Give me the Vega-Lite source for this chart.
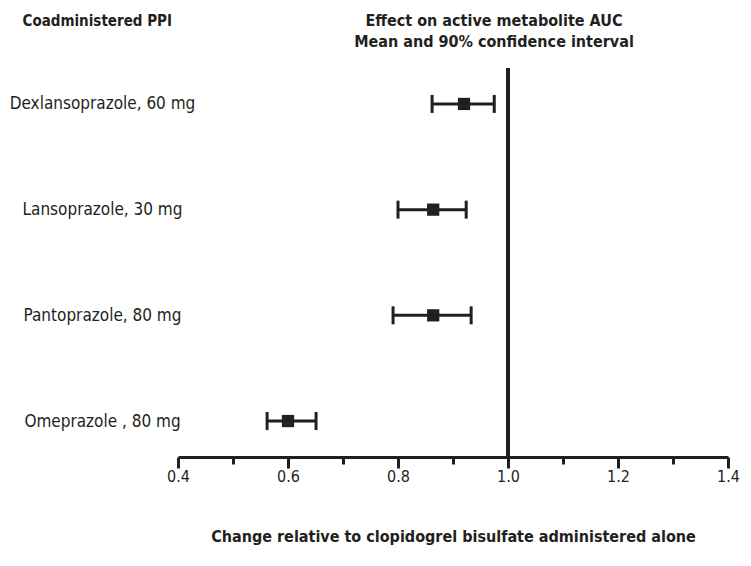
{
  "$schema": "https://vega.github.io/schema/vega-lite/v6.json",
  "width": 550,
  "height": 389,
  "autosize": {"type": "none"},
  "padding": {"left": 178, "top": 68, "right": 23, "bottom": 109},
  "background": "white",
  "config": {
    "view": {"stroke": null},
    "font": "DejaVu Sans Condensed"
  },
  "title": {
    "text": ["Effect on active metabolite AUC", "Mean and 90% confidence interval"],
    "anchor": "middle",
    "dx": 41,
    "dy": 47,
    "offset": 10,
    "font": "DejaVu Sans Condensed",
    "fontSize": 16,
    "fontWeight": "bold",
    "color": "#231f20",
    "lineHeight": 21
  },
  "data": {
    "values": [
      {"ppi": "Dexlansoprazole, 60 mg", "mean": 0.92, "lo": 0.862, "hi": 0.975},
      {"ppi": "Lansoprazole, 30 mg", "mean": 0.864, "lo": 0.8, "hi": 0.924},
      {"ppi": "Pantoprazole, 80 mg", "mean": 0.864, "lo": 0.791, "hi": 0.933},
      {"ppi": "Omeprazole , 80 mg", "mean": 0.6, "lo": 0.562, "hi": 0.651}
    ]
  },
  "encoding": {
    "y": {
      "field": "ppi",
      "type": "ordinal",
      "sort": null,
      "scale": {"type": "point", "padding": 0.34},
      "axis": {
        "title": "Coadministered PPI",
        "titleAngle": 0,
        "titleX": -156,
        "titleY": -48,
        "titleAlign": "left",
        "titleBaseline": "middle",
        "titleFont": "DejaVu Sans Condensed",
        "titleFontSize": 15,
        "titleFontWeight": "bold",
        "titleColor": "#231f20",
        "domain": false,
        "ticks": false,
        "labelAlign": "center",
        "labelPadding": 76,
        "labelLimit": 300,
        "labelFont": "DejaVu Sans Condensed",
        "labelFontSize": 17,
        "labelColor": "#231f20",
        "labelBaseline": "middle"
      }
    }
  },
  "layer": [
    {
      "mark": {"type": "rule", "color": "#231f20", "strokeWidth": 3},
      "encoding": {
        "x": {
          "field": "lo",
          "type": "quantitative",
          "scale": {"domain": [0.4, 1.4], "nice": false, "zero": false},
          "axis": {
            "title": "Change relative to clopidogrel bisulfate administered alone",
            "titleFont": "DejaVu Sans Condensed",
            "titleFontSize": 16,
            "titleFontWeight": "bold",
            "titleColor": "#231f20",
            "titlePadding": 44,
            "values": [0.4, 0.5, 0.6, 0.7, 0.8, 0.9, 1.0, 1.1, 1.2, 1.3, 1.4],
            "labelExpr": "round(datum.value*10) % 2 == 0 ? format(datum.value, '.1f') : ''",
            "labelFont": "DejaVu Sans Condensed",
            "labelFontSize": 16,
            "labelColor": "#231f20",
            "labelPadding": 0,
            "labelFlush": false,
            "labelOverlap": false,
            "domainColor": "#231f20",
            "domainWidth": 3,
            "tickColor": "#231f20",
            "tickWidth": 3,
            "tickSize": {"condition": {"test": "round(datum.value*10) % 2 == 0", "value": 11}, "value": 7},
            "grid": false
          }
        },
        "x2": {"field": "hi"}
      }
    },
    {
      "mark": {"type": "tick", "color": "#231f20", "thickness": 3, "size": 18, "orient": "vertical", "opacity": 1},
      "encoding": {"x": {"field": "lo", "type": "quantitative"}}
    },
    {
      "mark": {"type": "tick", "color": "#231f20", "thickness": 3, "size": 18, "orient": "vertical", "opacity": 1},
      "encoding": {"x": {"field": "hi", "type": "quantitative"}}
    },
    {
      "mark": {"type": "point", "shape": "square", "filled": true, "color": "#231f20", "size": 150, "opacity": 1},
      "encoding": {"x": {"field": "mean", "type": "quantitative"}}
    },
    {
      "mark": {"type": "rule", "color": "#231f20", "strokeWidth": 4},
      "encoding": {"x": {"datum": 1.0, "type": "quantitative"}, "y": {"value": 0}, "y2": {"value": 389}}
    }
  ]
}
